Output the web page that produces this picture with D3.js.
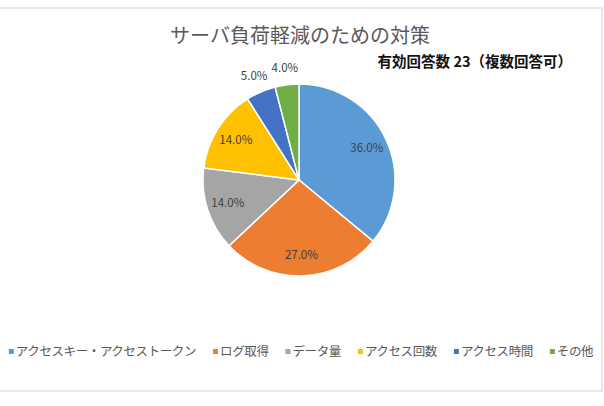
<!DOCTYPE html>
<html>
<head>
<meta charset="utf-8">
<script src="https://cdn.jsdelivr.net/npm/d3@7"></script>
<style>
  body { margin: 0; background: #fff; }
  text { font-family: "Noto Sans CJK JP", "Noto Sans", sans-serif; }
</style>
</head>
<body>
<div id="chart"></div>
<script>
/* DATA */
const categories = ["アクセスキー・アクセストークン", "ログ取得", "データ量", "アクセス回数", "アクセス時間", "その他"];
const values = [36, 27, 14, 14, 5, 4];
const colors = ["#5B9BD5", "#ED7D31", "#A5A5A5", "#FFC000", "#4472C4", "#70AD47"];
const titleText = "サーバ負荷軽減のための対策";
const subtitleText = "有効回答数 23（複数回答可）";

/* CONSTANTS */
const width = 604, height = 406;
const cx = 299, cy = 180, r = 96;

const svg = d3.select("#chart").append("svg")
  .attr("width", width)
  .attr("height", height);

// chart frame
svg.append("rect")
  .attr("x", -2).attr("y", 8)
  .attr("width", 604).attr("height", 383)
  .attr("fill", "#fff")
  .attr("stroke", "#d9d9d9")
  .attr("stroke-width", 1.2);

svg.append("text")
  .attr("x", 300).attr("y", 43)
  .attr("text-anchor", "middle")
  .attr("font-size", 20)
  .attr("fill", "#595959")
  .text(titleText);

svg.append("text")
  .attr("x", 572).attr("y", 67)
  .attr("text-anchor", "end")
  .attr("font-size", 14.5)
  .attr("font-weight", "bold")
  .attr("fill", "#111")
  .text(subtitleText);

const color = d3.scaleOrdinal().domain(categories).range(colors);
const pie = d3.pie().sort(null).value(d => d.value);
const data = categories.map((c, i) => ({ name: c, value: values[i] }));
const arcs = pie(data);
const total = d3.sum(values);

const arc = d3.arc().innerRadius(0).outerRadius(r);
const g = svg.append("g").attr("transform", `translate(${cx},${cy})`);

g.selectAll("path.slice")
  .data(arcs)
  .join("path")
  .attr("class", "slice")
  .attr("d", arc)
  .attr("fill", d => color(d.data.name))
  .attr("stroke", "#fff")
  .attr("stroke-width", 1.5);

// labels: inside for big slices, outside for small ones
const inner = d3.arc().innerRadius(r * 0.78).outerRadius(r * 0.78);
const outer = d3.arc().innerRadius(r + 17).outerRadius(r + 17);
g.selectAll("text.lbl")
  .data(arcs)
  .join("text")
  .attr("class", "lbl")
  .attr("transform", d => `translate(${(d.data.value / total >= 0.1 ? inner : outer).centroid(d)})`)
  .attr("text-anchor", "middle")
  .attr("dy", "0.35em")
  .attr("font-size", 11.5)
  .attr("fill", "#404040")
  .text(d => (d.data.value / total * 100).toFixed(1) + "%");

/* LEGEND */
const legend = svg.append("g");
const gap = 17;
let x = 0;
categories.forEach((c, i) => {
  const item = legend.append("g").attr("transform", `translate(${x},0)`);
  item.append("rect")
    .attr("x", 0).attr("y", -3)
    .attr("width", 5).attr("height", 5)
    .attr("fill", colors[i]);
  const t = item.append("text")
    .attr("x", 7).attr("y", 0)
    .attr("dy", "0.35em")
    .attr("font-size", 12.5)
    .attr("letter-spacing", -0.4)
    .attr("fill", "#595959")
    .text(c);
  x += 7 + t.node().getComputedTextLength() + gap;
});
const legendW = x - gap;
legend.attr("transform", `translate(${(301 - legendW / 2)},352)`);
</script>
</body>
</html>
